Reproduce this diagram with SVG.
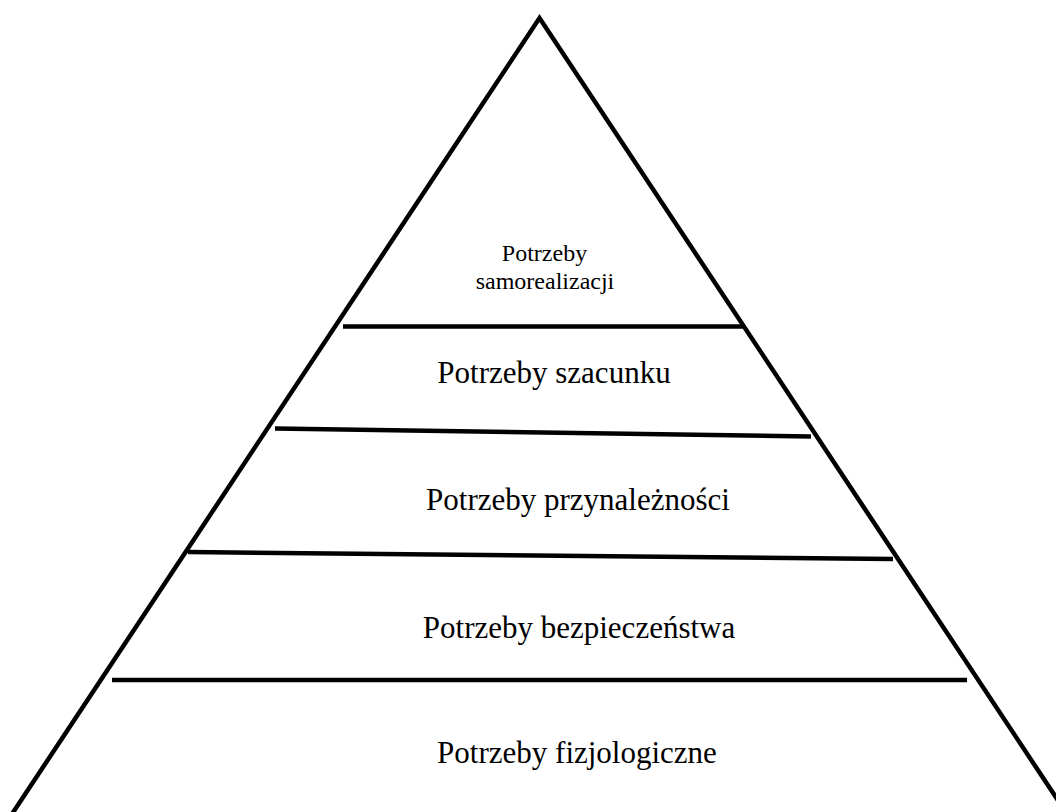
<svg xmlns="http://www.w3.org/2000/svg" width="1056" height="812" viewBox="0 0 1056 812">
  <style>
    .edge { fill: none; stroke: #000; stroke-width: 4.5; stroke-linejoin: miter; }
    .tier { stroke: #000; stroke-width: 4.5; }
    .label { font-family: "Liberation Serif", "Times New Roman", serif; font-size: 31px; fill: #000; text-anchor: middle; }
    .label.small { font-size: 24px; }
  </style>
  <rect width="1056" height="812" fill="#fff"/>

  <!-- outline of the pyramid -->
  <g id="outline">
    <path class="edge" d="M 8 820 L 539.5 18 L 1071 820"/>
  </g>

  <!-- dividing lines between tiers -->
  <g id="connectors">
    <line class="tier" x1="343" y1="326.5" x2="745" y2="326.5"/>
    <line class="tier" x1="275" y1="428.5" x2="811" y2="436.5"/>
    <line class="tier" x1="188" y1="552" x2="893" y2="559"/>
    <line class="tier" x1="112" y1="680" x2="967" y2="680"/>
  </g>

  <g id="tier-self-actualisation">
    <text class="label small" x="544.5" y="261">Potrzeby</text>
    <text class="label small" x="545" y="289">samorealizacji</text>
  </g>
  <g id="tier-esteem">
    <text class="label" x="554" y="383">Potrzeby szacunku</text>
  </g>
  <g id="tier-belonging">
    <text class="label" x="578" y="509.5">Potrzeby przynależności</text>
  </g>
  <g id="tier-safety">
    <text class="label" x="579" y="638">Potrzeby bezpieczeństwa</text>
  </g>
  <g id="tier-physiological">
    <text class="label" x="577" y="763">Potrzeby fizjologiczne</text>
  </g>
</svg>
